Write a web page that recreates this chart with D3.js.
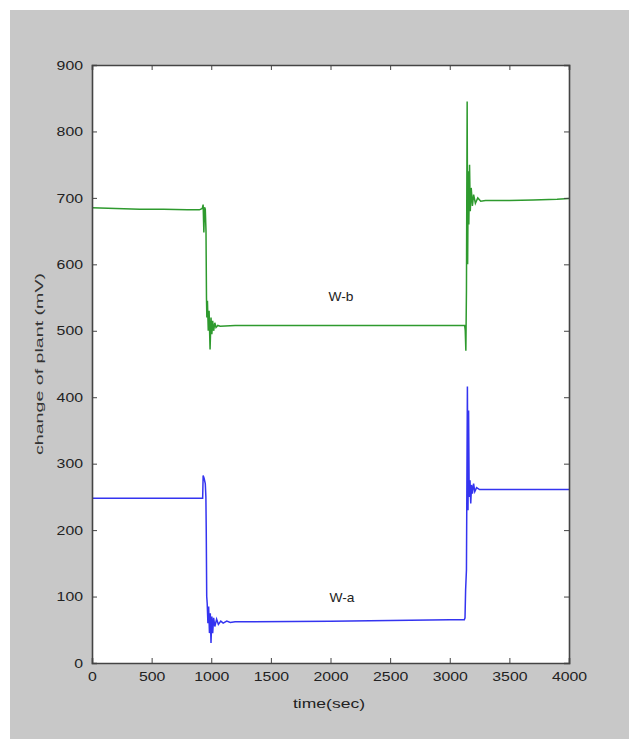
<!DOCTYPE html>
<html><head><meta charset="utf-8">
<script src="https://cdn.jsdelivr.net/npm/d3@7"></script>
<style>body{margin:0;background:#fff;}svg{display:block;}text{font-family:"Liberation Sans",Arial,sans-serif;}</style>
</head><body>
<script>
const xTicks = [0,500,1000,1500,2000,2500,3000,3500,4000];
const yTicks = [0,100,200,300,400,500,600,700,800,900];
const seriesNames = ["W-b","W-a"];
const wbTime = [0,200,400,600,800,900,925,932,938,944,950,956,960,963,968,975,982,990,998,1005,1012,1020,1030,1040,1055,1075,1200,2000,3000,3125,3130,3135,3140,3146,3150,3155,3160,3166,3172,3180,3190,3200,3215,3235,3260,3300,3500,3700,3900,4000];
const wbVal  = [685,684,683,683,682,682,684,690,648,686,683,650,550,520,545,500,530,472,520,495,515,500,512,505,508,507,508,508,508,508,500,470,560,845,600,740,660,750,680,715,688,705,692,700,695,696,696,697,698,699];
const waTime = [0,500,900,928,932,940,950,955,958,962,966,972,978,985,992,998,1005,1012,1020,1030,1045,1060,1080,1100,1130,1160,1200,2000,2500,3000,3122,3128,3133,3140,3148,3153,3158,3163,3170,3176,3183,3190,3200,3210,3225,3250,4000];
const waVal  = [248,248,248,248,282,278,270,250,200,100,90,60,85,45,75,30,70,45,68,55,66,58,63,60,63,61,62,63,64,65,65,68,110,140,416,230,380,250,275,240,268,255,270,258,264,261,261];
const labelPos = [[2088,551],[2096,98]];

const W=629,H=739;
const svg=d3.select("body").append("svg").attr("width",W).attr("height",H);
svg.append("rect").attr("x",10).attr("y",10).attr("width",W-10).attr("height",H-10).attr("fill","#c8c8c8");
const x=d3.scaleLinear().domain([0,4000]).range([92,569]);
const y=d3.scaleLinear().domain([0,900]).range([663,65]);
svg.append("rect").attr("x",92).attr("y",65).attr("width",477).attr("height",598).attr("fill","#fff");

const line=d3.line().x(d=>x(d[0])).y(d=>y(d[1]));
const wb=wbTime.map((t,i)=>[t,wbVal[i]]);
const wa=waTime.map((t,i)=>[t,waVal[i]]);
svg.append("path").attr("d",line(wb)).attr("fill","none").attr("stroke","#2e9a2e").attr("stroke-width",1.5);
svg.append("path").attr("d",line(wa)).attr("fill","none").attr("stroke","#3434f0").attr("stroke-width",1.5);

const tl=5;
const axB=svg.append("g").attr("transform","translate(0,663)").call(d3.axisBottom(x).tickValues(xTicks).tickSize(-tl).tickPadding(9).tickFormat(d3.format("d")));
const axT=svg.append("g").attr("transform","translate(0,65)").call(d3.axisTop(x).tickValues(xTicks).tickSize(-tl).tickFormat(""));
const axL=svg.append("g").attr("transform","translate(92,0)").call(d3.axisLeft(y).tickValues(yTicks).tickSize(-tl).tickPadding(9).tickFormat(d3.format("d")));
const axR=svg.append("g").attr("transform","translate(569,0)").call(d3.axisRight(y).tickValues(yTicks).tickSize(-tl).tickFormat(""));
[axB,axT,axL,axR].forEach(a=>{
  a.select(".domain").attr("stroke","#444").attr("stroke-width",1.6);
  a.selectAll(".tick line").attr("stroke","#444");
  a.selectAll("text").attr("font-size",13).attr("fill","#222").attr("font-family","'Liberation Sans',Arial,sans-serif")
    .attr("textLength",function(){return this.textContent.length*8.8;}).attr("lengthAdjust","spacingAndGlyphs");
});
svg.append("text").attr("x",329).attr("y",708).attr("text-anchor","middle").attr("font-size",13).attr("fill","#222")
  .attr("textLength",72).attr("lengthAdjust","spacingAndGlyphs").text("time(sec)");
svg.append("text").attr("transform","translate(43,364) rotate(-90)").attr("text-anchor","middle").attr("font-size",10.5).attr("fill","#333")
  .attr("textLength",182).attr("lengthAdjust","spacingAndGlyphs").text("change of plant (mV)");
seriesNames.forEach((n,i)=>{
  svg.append("text").attr("x",x(labelPos[i][0])).attr("y",y(labelPos[i][1])).attr("dy","0.35em").attr("text-anchor","middle").attr("font-size",13).attr("fill","#222")
    .attr("textLength",25).attr("lengthAdjust","spacingAndGlyphs").text(n);
});
</script>
</body></html>
